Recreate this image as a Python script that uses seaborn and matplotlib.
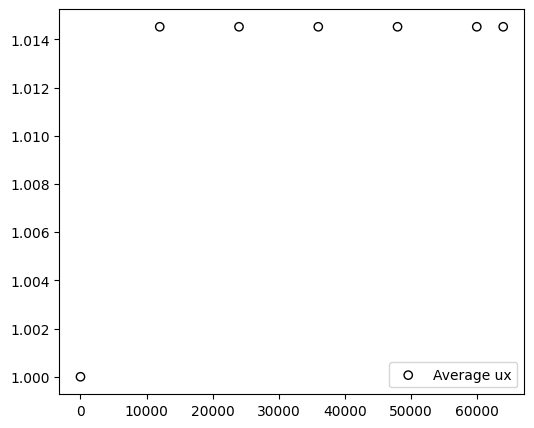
import matplotlib
matplotlib.use("Agg")
import matplotlib.pyplot as plt
import seaborn as sns
import pandas as pd

steps = [0, 12000, 24000, 36000, 48000, 60000, 64000]
avg_ux = [1.0, 1.01452, 1.01452, 1.01452, 1.01452, 1.01452, 1.01452]

df = pd.DataFrame({"step": steps, "ux": avg_ux})

fig, ax = plt.subplots(figsize=(6, 5))
sns.scatterplot(data=df, x="step", y="ux", ax=ax, marker="o", s=36,
                facecolor="none", edgecolor="black", linewidth=1.0,
                label="Average ux")
ax.set_xlabel("")
ax.set_ylabel("")
ax.legend(loc="lower right")
fig.savefig("out.png", dpi=100, bbox_inches="tight")
